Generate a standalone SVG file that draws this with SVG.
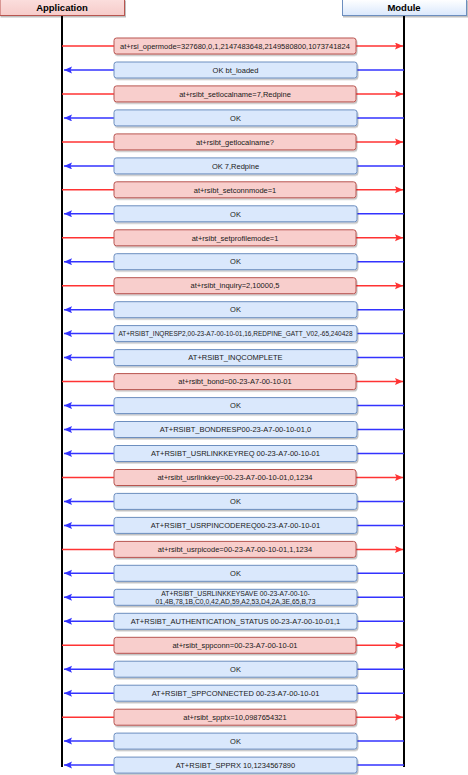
<svg xmlns="http://www.w3.org/2000/svg" width="468" height="775" viewBox="0 0 468 775">
<style>
.req rect{fill:#f8cecc;stroke:#b85450;stroke-width:1;filter:url(#sh)}
.rsp rect{fill:#dae8fc;stroke:#6c8ebf;stroke-width:1;filter:url(#sh)}
text{font-family:"Liberation Sans",Arial,Helvetica,sans-serif;fill:#1a1a1a;text-anchor:middle}
.m text{font-size:7.5px}
.hd{font-size:9.5px;font-weight:bold;fill:#000}
.life{stroke:#000;stroke-width:2}
.r{stroke:#ff3333;stroke-width:1.5;marker-end:url(#ar)}
.b{stroke:#3333ff;stroke-width:1.5;marker-end:url(#ab)}
</style>
<defs>
<filter id="sh" x="-5%" y="-30%" width="115%" height="180%"><feDropShadow dx="1" dy="1.5" stdDeviation="0.7" flood-color="#000" flood-opacity="0.25"/></filter>
<linearGradient id="ga" x1="0" y1="0" x2="0" y2="1"><stop offset="0" stop-color="#fbdedd"/><stop offset="1" stop-color="#f6cbc9"/></linearGradient>
<linearGradient id="gm" x1="0" y1="0" x2="0" y2="1"><stop offset="0" stop-color="#ffffff"/><stop offset="1" stop-color="#dae8fc"/></linearGradient>
<marker id="ar" markerUnits="userSpaceOnUse" markerWidth="9" markerHeight="8" refX="8" refY="3.5" orient="auto"><path d="M0,0 L8,3.5 L0,7 L1.5,3.5 z" fill="#ff3333"/></marker>
<marker id="ab" markerUnits="userSpaceOnUse" markerWidth="9" markerHeight="8" refX="8" refY="3.5" orient="auto"><path d="M0,0 L8,3.5 L0,7 L1.5,3.5 z" fill="#3333ff"/></marker>
</defs>
<rect width="468" height="775" fill="#ffffff"/>
<g id="application">
<line class="life" x1="62" y1="16" x2="62" y2="767"/>
<rect x="0" y="-0.5" width="124.5" height="16" fill="url(#ga)" stroke="#b85450" filter="url(#sh)"/>
<text class="hd" x="62" y="11">Application</text>
</g>
<g id="module">
<line class="life" x1="404" y1="16" x2="404" y2="767"/>
<rect x="342.5" y="-0.5" width="124" height="16" fill="url(#gm)" stroke="#6c8ebf" filter="url(#sh)"/>
<text class="hd" x="404" y="11">Module</text>
</g>
<g id="connectors">
<line class="r" x1="62" y1="46" x2="403" y2="46"/>
<line class="b" x1="404" y1="70" x2="64" y2="70"/>
<line class="r" x1="62" y1="93.9" x2="403" y2="93.9"/>
<line class="b" x1="404" y1="117.9" x2="64" y2="117.9"/>
<line class="r" x1="62" y1="141.9" x2="403" y2="141.9"/>
<line class="b" x1="404" y1="165.9" x2="64" y2="165.9"/>
<line class="r" x1="62" y1="189.8" x2="403" y2="189.8"/>
<line class="b" x1="404" y1="213.8" x2="64" y2="213.8"/>
<line class="r" x1="62" y1="237.8" x2="403" y2="237.8"/>
<line class="b" x1="404" y1="261.7" x2="64" y2="261.7"/>
<line class="r" x1="62" y1="285.7" x2="403" y2="285.7"/>
<line class="b" x1="404" y1="309.7" x2="64" y2="309.7"/>
<line class="b" x1="404" y1="333.6" x2="64" y2="333.6"/>
<line class="b" x1="404" y1="357.6" x2="64" y2="357.6"/>
<line class="r" x1="62" y1="381.6" x2="403" y2="381.6"/>
<line class="b" x1="404" y1="405.6" x2="64" y2="405.6"/>
<line class="b" x1="404" y1="429.5" x2="64" y2="429.5"/>
<line class="b" x1="404" y1="453.5" x2="64" y2="453.5"/>
<line class="r" x1="62" y1="477.5" x2="403" y2="477.5"/>
<line class="b" x1="404" y1="501.4" x2="64" y2="501.4"/>
<line class="b" x1="404" y1="525.4" x2="64" y2="525.4"/>
<line class="r" x1="62" y1="549.4" x2="403" y2="549.4"/>
<line class="b" x1="404" y1="573.3" x2="64" y2="573.3"/>
<line class="b" x1="404" y1="597.3" x2="64" y2="597.3"/>
<line class="b" x1="404" y1="621.3" x2="64" y2="621.3"/>
<line class="r" x1="62" y1="645.3" x2="403" y2="645.3"/>
<line class="b" x1="404" y1="669.2" x2="64" y2="669.2"/>
<line class="b" x1="404" y1="693.2" x2="64" y2="693.2"/>
<line class="r" x1="62" y1="717.2" x2="403" y2="717.2"/>
<line class="b" x1="404" y1="741.1" x2="64" y2="741.1"/>
<line class="b" x1="404" y1="765.1" x2="64" y2="765.1"/>
</g>
<g class="m">
<g id="m0" class="req"><rect x="114" y="38" width="242" height="16" rx="2.5"/><text x="235" y="48.7">at+rsi_opermode=327680,0,1,2147483648,2149580800,1073741824</text></g>
<g id="m1" class="rsp"><rect x="114" y="62" width="243" height="16" rx="2.5"/><text x="235.5" y="72.7">OK bt_loaded</text></g>
<g id="m2" class="req"><rect x="114" y="85.9" width="242" height="16" rx="2.5"/><text x="235" y="96.6">at+rsibt_setlocalname=7,Redpine</text></g>
<g id="m3" class="rsp"><rect x="114" y="109.9" width="243" height="16" rx="2.5"/><text x="235.5" y="120.6">OK</text></g>
<g id="m4" class="req"><rect x="114" y="133.9" width="242" height="16" rx="2.5"/><text x="235" y="144.6">at+rsibt_getlocalname?</text></g>
<g id="m5" class="rsp"><rect x="114" y="157.9" width="243" height="16" rx="2.5"/><text x="235.5" y="168.6">OK 7,Redpine</text></g>
<g id="m6" class="req"><rect x="114" y="181.8" width="242" height="16" rx="2.5"/><text x="235" y="192.5">at+rsibt_setconnmode=1</text></g>
<g id="m7" class="rsp"><rect x="114" y="205.8" width="243" height="16" rx="2.5"/><text x="235.5" y="216.5">OK</text></g>
<g id="m8" class="req"><rect x="114" y="229.8" width="242" height="16" rx="2.5"/><text x="235" y="240.5">at+rsibt_setprofilemode=1</text></g>
<g id="m9" class="rsp"><rect x="114" y="253.7" width="243" height="16" rx="2.5"/><text x="235.5" y="264.4">OK</text></g>
<g id="m10" class="req"><rect x="114" y="277.7" width="242" height="16" rx="2.5"/><text x="235" y="288.4">at+rsibt_inquiry=2,10000,5</text></g>
<g id="m11" class="rsp"><rect x="114" y="301.7" width="243" height="16" rx="2.5"/><text x="235.5" y="312.4">OK</text></g>
<g id="m12" class="rsp"><rect x="114" y="325.6" width="243" height="16" rx="2.5"/><text x="235.5" y="336" style="font-size:6.5px">AT+RSIBT_INQRESP2,00-23-A7-00-10-01,16,REDPINE_GATT_V02,-65,240428</text></g>
<g id="m13" class="rsp"><rect x="114" y="349.6" width="243" height="16" rx="2.5"/><text x="235.5" y="360.3">AT+RSIBT_INQCOMPLETE</text></g>
<g id="m14" class="req"><rect x="114" y="373.6" width="242" height="16" rx="2.5"/><text x="235" y="384.3">at+rsibt_bond=00-23-A7-00-10-01</text></g>
<g id="m15" class="rsp"><rect x="114" y="397.6" width="243" height="16" rx="2.5"/><text x="235.5" y="408.3">OK</text></g>
<g id="m16" class="rsp"><rect x="114" y="421.5" width="243" height="16" rx="2.5"/><text x="235.5" y="432.2">AT+RSIBT_BONDRESP00-23-A7-00-10-01,0</text></g>
<g id="m17" class="rsp"><rect x="114" y="445.5" width="243" height="16" rx="2.5"/><text x="235.5" y="456.2">AT+RSIBT_USRLINKKEYREQ 00-23-A7-00-10-01</text></g>
<g id="m18" class="req"><rect x="114" y="469.5" width="242" height="16" rx="2.5"/><text x="235" y="480.2">at+rsibt_usrlinkkey=00-23-A7-00-10-01,0,1234</text></g>
<g id="m19" class="rsp"><rect x="114" y="493.4" width="243" height="16" rx="2.5"/><text x="235.5" y="504.1">OK</text></g>
<g id="m20" class="rsp"><rect x="114" y="517.4" width="243" height="16" rx="2.5"/><text x="235.5" y="528.1">AT+RSIBT_USRPINCODEREQ00-23-A7-00-10-01</text></g>
<g id="m21" class="req"><rect x="114" y="541.4" width="242" height="16" rx="2.5"/><text x="235" y="552.1">at+rsibt_usrpicode=00-23-A7-00-10-01,1,1234</text></g>
<g id="m22" class="rsp"><rect x="114" y="565.3" width="243" height="16" rx="2.5"/><text x="235.5" y="576">OK</text></g>
<g id="m23" class="rsp"><rect x="114" y="589.3" width="243" height="16" rx="2.5"/><text x="235.5" y="595.6" style="font-size:6.8px">AT+RSIBT_USRLINKKEYSAVE 00-23-A7-00-10-</text><text x="235.5" y="604.4" style="font-size:6.8px">01,4B,78,1B,C0,0,42,AD,59,A2,53,D4,2A,3E,65,B,73</text></g>
<g id="m24" class="rsp"><rect x="114" y="613.3" width="243" height="16" rx="2.5"/><text x="235.5" y="624">AT+RSIBT_AUTHENTICATION_STATUS 00-23-A7-00-10-01,1</text></g>
<g id="m25" class="req"><rect x="114" y="637.3" width="242" height="16" rx="2.5"/><text x="235" y="648">at+rsibt_sppconn=00-23-A7-00-10-01</text></g>
<g id="m26" class="rsp"><rect x="114" y="661.2" width="243" height="16" rx="2.5"/><text x="235.5" y="671.9">OK</text></g>
<g id="m27" class="rsp"><rect x="114" y="685.2" width="243" height="16" rx="2.5"/><text x="235.5" y="695.9">AT+RSIBT_SPPCONNECTED 00-23-A7-00-10-01</text></g>
<g id="m28" class="req"><rect x="114" y="709.2" width="242" height="16" rx="2.5"/><text x="235" y="719.9">at+rsibt_spptx=10,0987654321</text></g>
<g id="m29" class="rsp"><rect x="114" y="733.1" width="243" height="16" rx="2.5"/><text x="235.5" y="743.8">OK</text></g>
<g id="m30" class="rsp"><rect x="114" y="757.1" width="243" height="16" rx="2.5"/><text x="235.5" y="767.8">AT+RSIBT_SPPRX 10,1234567890</text></g>
</g>
</svg>
